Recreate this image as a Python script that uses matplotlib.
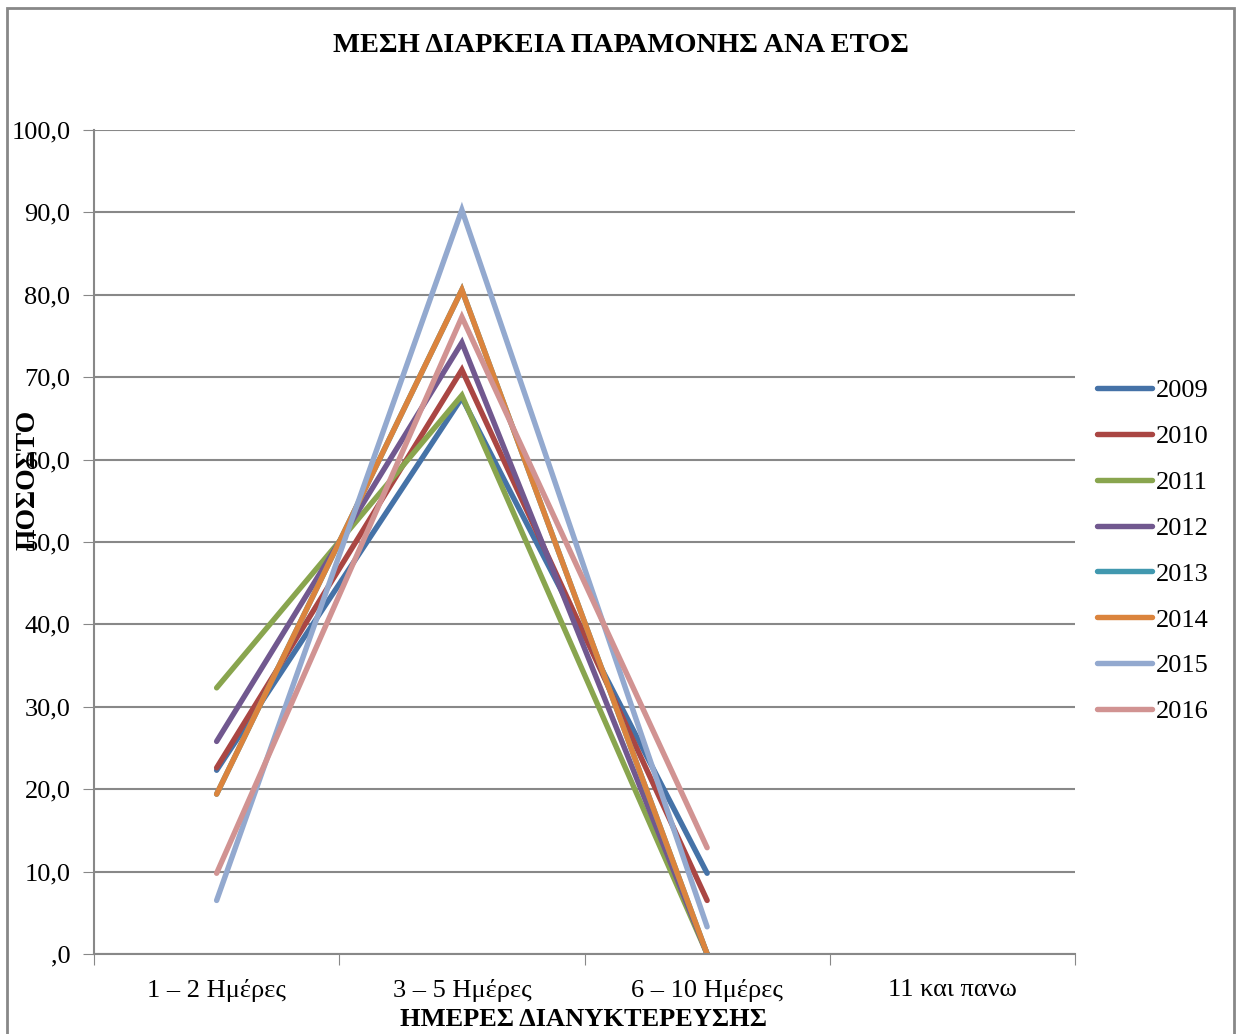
import matplotlib
matplotlib.use("Agg")
import matplotlib.pyplot as plt
import numpy as np
from matplotlib.patches import Rectangle

plt.rcParams['font.family'] = ['Liberation Serif', 'DejaVu Serif']

categories = ["1 – 2 Ημέρες", "3 – 5 Ημέρες", "6 – 10 Ημέρες", "11 και πανω"]
years = ["2009", "2010", "2011", "2012", "2013", "2014", "2015", "2016"]
v2009 = [22.3, 67.5, 9.8, np.nan]
v2010 = [22.6, 70.9, 6.5, np.nan]
v2011 = [32.3, 67.8, 0.0, np.nan]
v2012 = [25.8, 74.2, 0.0, np.nan]
v2013 = [19.4, 80.6, 0.0, np.nan]
v2014 = [19.4, 80.6, 0.0, np.nan]
v2015 = [6.5, 90.3, 3.3, np.nan]
v2016 = [9.8, 77.3, 12.9, np.nan]
series = [v2009, v2010, v2011, v2012, v2013, v2014, v2015, v2016]
colors = ["#4572A7", "#AA4643", "#89A54E", "#71588F", "#4198AF", "#DB843D", "#93A9CF", "#D19392"]
yticks = [0, 10, 20, 30, 40, 50, 60, 70, 80, 90, 100]
ytick_labels = [",0", "10,0", "20,0", "30,0", "40,0", "50,0", "60,0", "70,0", "80,0", "90,0", "100,0"]

W, H = 1238, 1034
fig = plt.figure(figsize=(W / 100, H / 100), dpi=100)
ax = fig.add_axes([94 / W, 1 - 954 / H, (1075 - 94) / W, (954 - 130) / H])

x = np.arange(len(categories))
for name, vals, c in zip(years, series, colors):
    ax.plot(x, vals, color=c, lw=3.9, label=name, solid_capstyle='round', solid_joinstyle='miter')

ax.set_xlim(-0.5, len(categories) - 0.5)
ax.set_ylim(0, 100)
ax.set_yticks(yticks)
ax.set_yticklabels(ytick_labels, fontsize=19)
ax.set_xticks(np.arange(len(categories) + 1) - 0.5)
ax.set_xticklabels([])
ax.set_xticks(x, minor=True)
ax.set_xticklabels(categories, minor=True, fontsize=19)
ax.tick_params(axis='x', which='minor', length=0, pad=18)
ax.tick_params(axis='x', which='major', length=8, color='#888888', direction='out')
ax.tick_params(axis='y', length=8, color='#888888', direction='out', pad=9)
ax.yaxis.grid(True, color='#888888', lw=1.5)
ax.set_axisbelow(True)
for s in ['top', 'right']:
    ax.spines[s].set_visible(False)
for s in ['left', 'bottom']:
    ax.spines[s].set_color('#888888')
    ax.spines[s].set_linewidth(1.5)

fig.text(621 / W, 1 - 45 / H, "ΜΕΣΗ ΔΙΑΡΚΕΙΑ ΠΑΡΑΜΟΝΗΣ ΑΝΑ ΕΤΟΣ", ha='center', va='center',
         fontsize=20.5, fontweight='bold')
fig.text(28 / W, 1 - 480 / H, "ΠΟΣΟΣΤΟ", rotation=90, ha='center', va='center',
         fontsize=20, fontweight='bold')
fig.text(584 / W, 1 - 1020 / H, "ΗΜΕΡΕΣ ΔΙΑΝΥΚΤΕΡΕΥΣΗΣ", ha='center', va='center',
         fontsize=19, fontweight='bold')

leg = fig.legend(loc='center left', bbox_to_anchor=(1073 / W, 1 - 551 / H), frameon=False,
                 fontsize=19, handlelength=2.1, handletextpad=0.15, labelspacing=0.85)
for line in leg.get_lines():
    line.set_linewidth(3.9)

fig.patches.append(Rectangle((7 / W, -0.05), (1234 - 7) / W, 1 - 8 / H + 0.05,
                             transform=fig.transFigure, fill=False, edgecolor='#888888', lw=2))

fig.savefig("out.png", dpi=100)
